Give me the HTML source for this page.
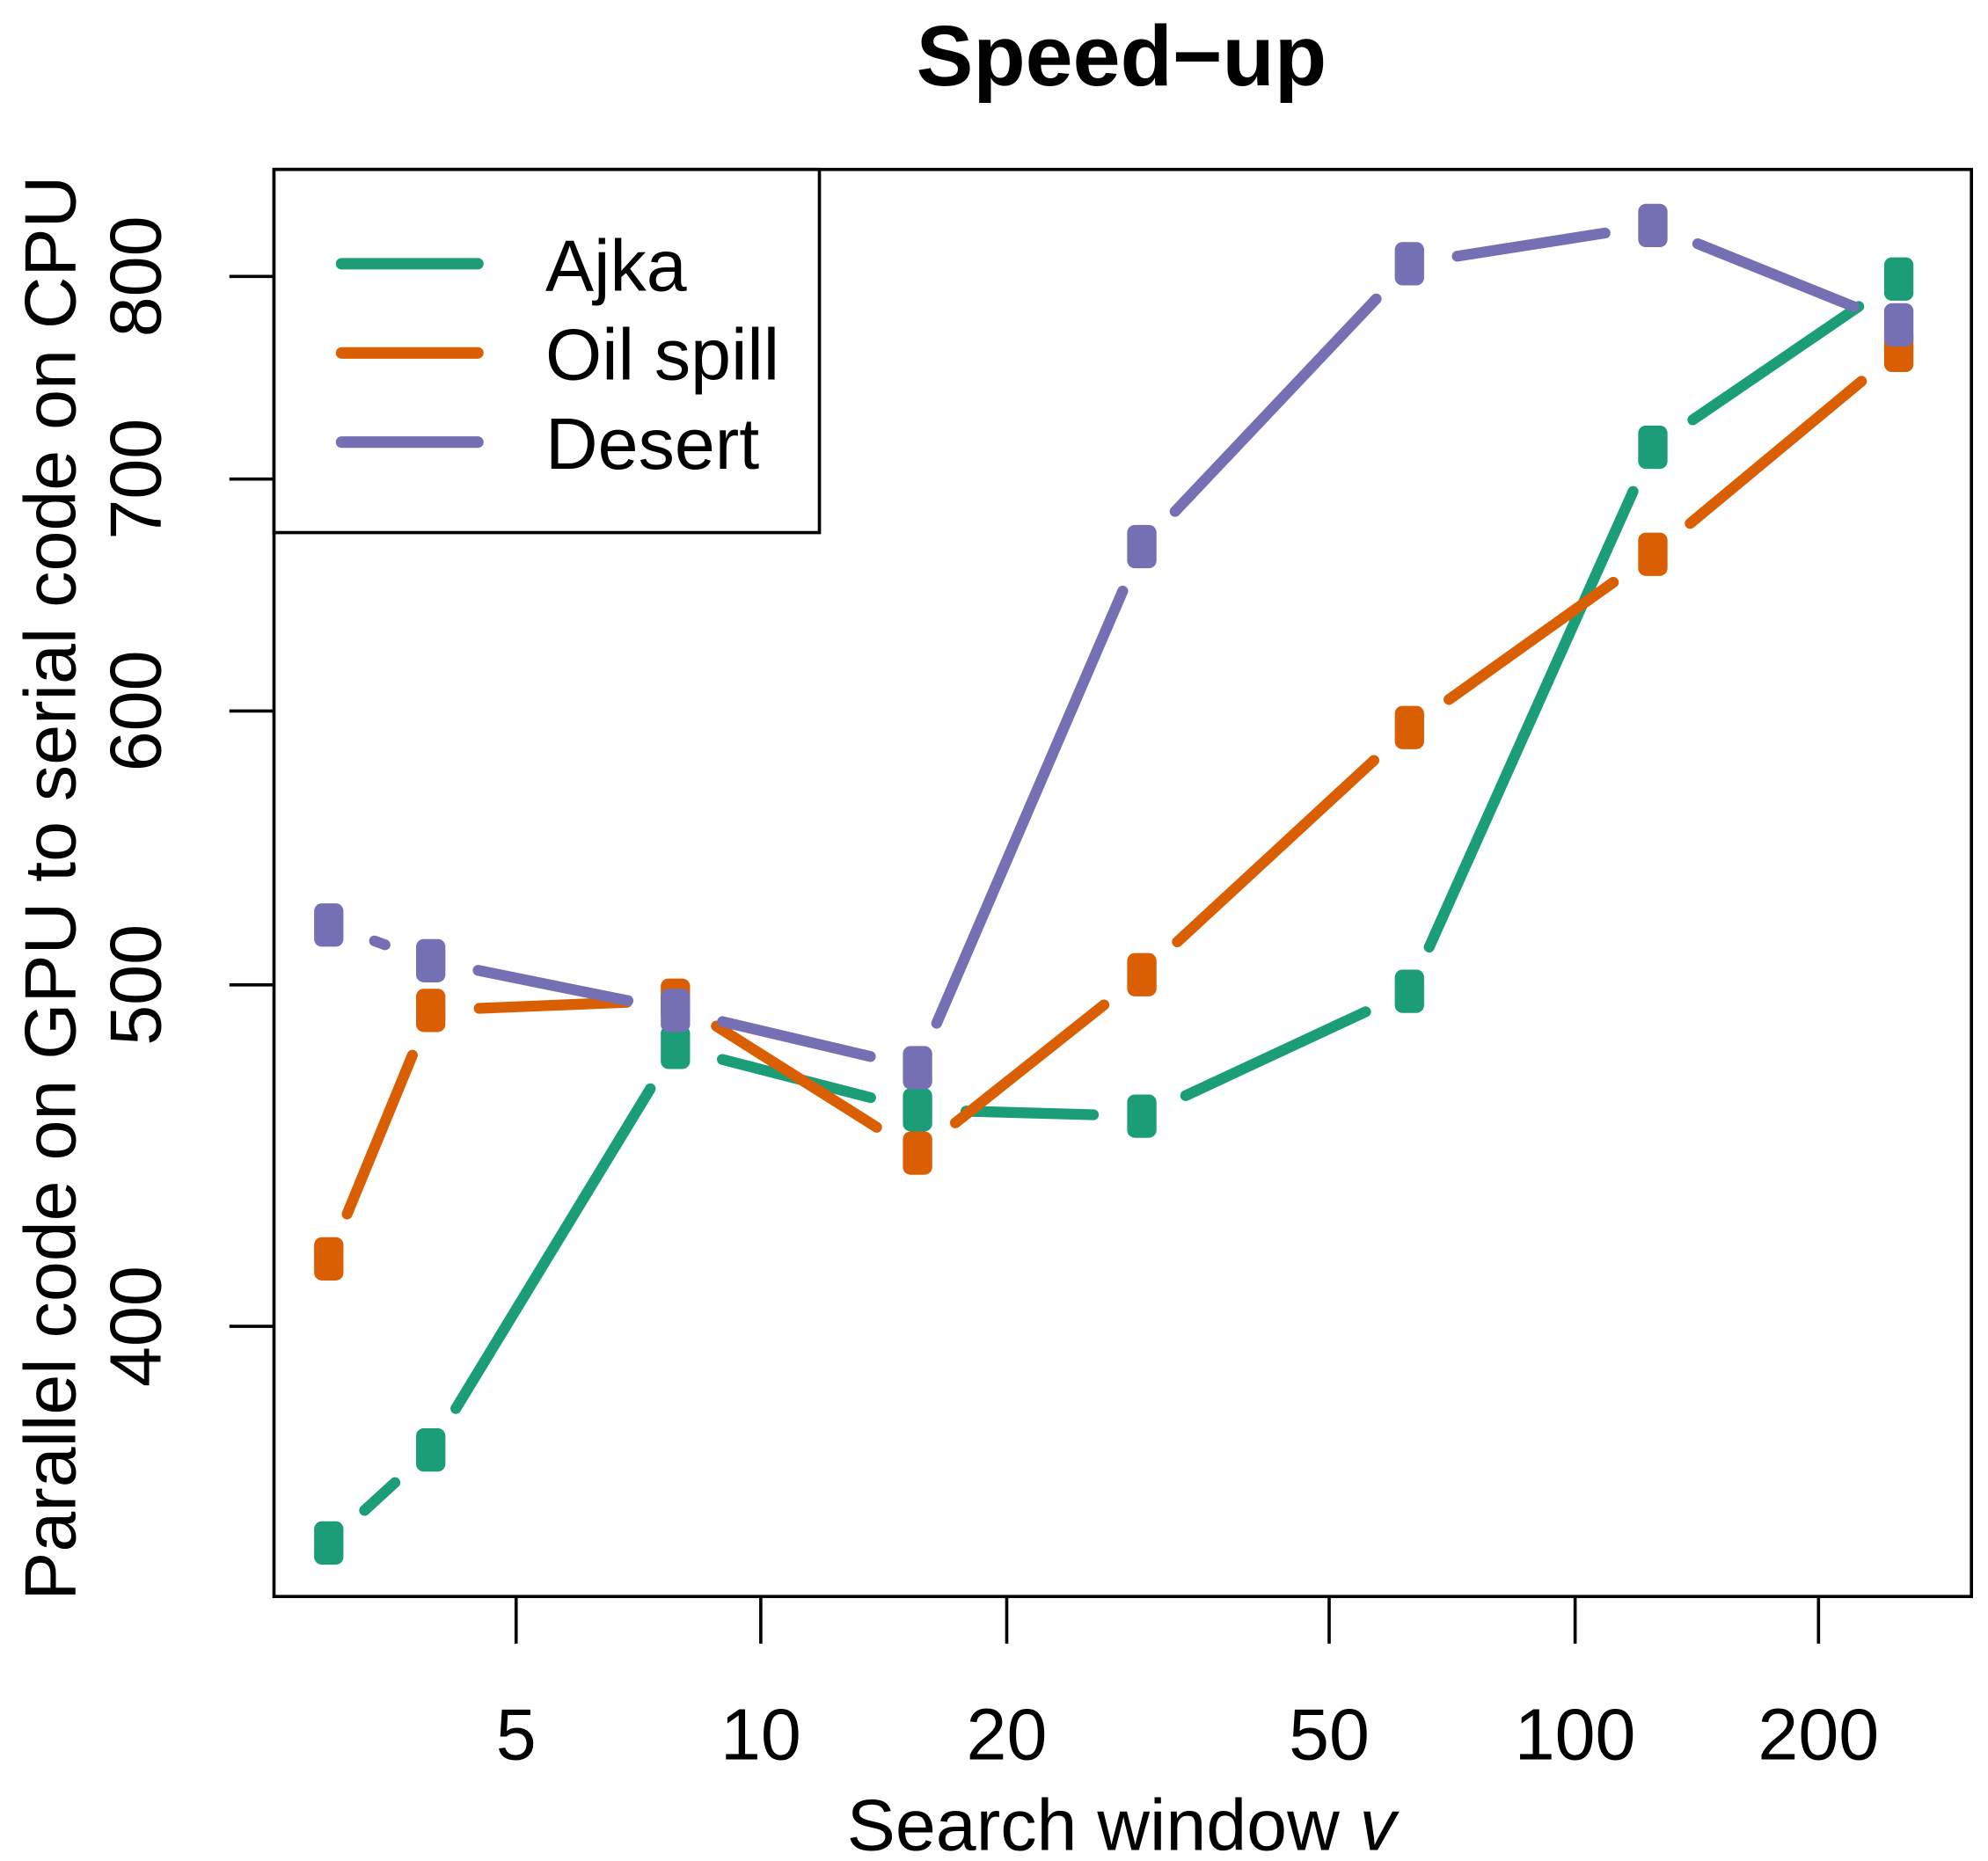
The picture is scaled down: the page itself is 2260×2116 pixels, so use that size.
<!DOCTYPE html>
<html><head><meta charset="utf-8"><style>html,body{margin:0;padding:0;background:#fff}svg{display:block}</style></head>
<body>
<svg width="2260" height="2116" viewBox="0 0 1560 1460.6" preserveAspectRatio="none" xmlns="http://www.w3.org/2000/svg" font-family="Liberation Sans, sans-serif">
<rect x="0" y="0" width="1560" height="1461" fill="#fff"/>
<text x="880" y="67" font-size="67" font-weight="bold" text-anchor="middle">Speed−up</text>
<rect x="215" y="133" width="1332" height="1120" fill="none" stroke="#000" stroke-width="2.5"/>
<g stroke="#000" stroke-width="2.5">
<line x1="405" y1="1253" x2="405" y2="1290"/><line x1="597" y1="1253" x2="597" y2="1290"/><line x1="790" y1="1253" x2="790" y2="1290"/><line x1="1043" y1="1253" x2="1043" y2="1290"/><line x1="1236" y1="1253" x2="1236" y2="1290"/><line x1="1427" y1="1253" x2="1427" y2="1290"/>
<line x1="215" y1="217" x2="180" y2="217"/><line x1="215" y1="376" x2="180" y2="376"/><line x1="215" y1="558" x2="180" y2="558"/><line x1="215" y1="773" x2="180" y2="773"/><line x1="215" y1="1041" x2="180" y2="1041"/>
</g>
<g font-size="57" text-anchor="middle">
<text x="405" y="1381">5</text><text x="597" y="1381">10</text><text x="790" y="1381">20</text><text x="1043" y="1381">50</text><text x="1236" y="1381">100</text><text x="1427" y="1381">200</text>
<text transform="translate(126,217) rotate(-90)">800</text>
<text transform="translate(126,376) rotate(-90)">700</text>
<text transform="translate(126,558) rotate(-90)">600</text>
<text transform="translate(126,773) rotate(-90)">500</text>
<text transform="translate(126,1041) rotate(-90)">400</text>
<text x="880" y="1452" font-size="57">Search window <tspan font-style="italic">v</tspan></text>
<text transform="translate(59,697) rotate(-90)" font-size="57">Parallel code on GPU to serial code on CPU</text>
</g>
<g stroke-linecap="round" stroke-width="8.5" fill="none">
<g stroke="#1B9E77">
<line x1="286.1" y1="1185.4" x2="309.9" y2="1163.6"/>
<line x1="357.7" y1="1105.5" x2="510.3" y2="854.5"/>
<line x1="566.8" y1="831.5" x2="683.2" y2="861.5"/>
<line x1="758" y1="872.1" x2="858" y2="874.9"/>
<line x1="930.4" y1="859.9" x2="1071.6" y2="794.1"/>
<line x1="1121.5" y1="743.3" x2="1281.5" y2="385.7"/>
<line x1="1328.4" y1="329.5" x2="1458.6" y2="240.5"/>
</g>
<g fill="#1B9E77" stroke="none">
<rect x="246.5" y="1194" width="23" height="34" rx="6"/><rect x="326.5" y="1121" width="23" height="34" rx="6"/><rect x="518.5" y="805" width="23" height="34" rx="6"/><rect x="708.5" y="854" width="23" height="34" rx="6"/><rect x="884.5" y="859" width="23" height="34" rx="6"/><rect x="1094.5" y="761" width="23" height="34" rx="6"/><rect x="1285.5" y="334" width="23" height="34" rx="6"/><rect x="1478.5" y="202" width="23" height="34" rx="6"/>
</g>
<g stroke="#D95F02">
<line x1="272.4" y1="952.8" x2="323.6" y2="828.2"/>
<line x1="376" y1="791.4" x2="492" y2="786.6"/>
<line x1="562.1" y1="805.3" x2="687.9" y2="884.7"/>
<line x1="749.7" y1="881.3" x2="866.3" y2="788.7"/>
<line x1="923.9" y1="739.2" x2="1078.1" y2="596.8"/>
<line x1="1137" y1="549" x2="1266" y2="457"/>
<line x1="1326.3" y1="410.8" x2="1460.7" y2="299.2"/>
</g>
<g fill="#D95F02" stroke="none">
<rect x="246.5" y="971" width="23" height="34" rx="6"/><rect x="326.5" y="776" width="23" height="34" rx="6"/><rect x="518.5" y="768" width="23" height="34" rx="6"/><rect x="708.5" y="888" width="23" height="34" rx="6"/><rect x="884.5" y="748" width="23" height="34" rx="6"/><rect x="1094.5" y="554" width="23" height="34" rx="6"/><rect x="1285.5" y="418" width="23" height="34" rx="6"/><rect x="1478.5" y="258" width="23" height="34" rx="6"/>
</g>
<g stroke="#7570B3">
<line x1="293.9" y1="738.5" x2="302.1" y2="741.5"/>
<line x1="375.2" y1="761.6" x2="492.8" y2="785.4"/>
<line x1="567" y1="801.8" x2="683" y2="829.2"/>
<line x1="735" y1="803.1" x2="881" y2="463.9"/>
<line x1="922.1" y1="401.4" x2="1079.9" y2="234.6"/>
<line x1="1143.5" y1="201.1" x2="1259.5" y2="182.9"/>
<line x1="1332.2" y1="191.3" x2="1454.8" y2="240.7"/>
</g>
<g fill="#7570B3" stroke="none">
<rect x="246.5" y="709" width="23" height="34" rx="6"/><rect x="326.5" y="737" width="23" height="34" rx="6"/><rect x="518.5" y="776" width="23" height="34" rx="6"/><rect x="708.5" y="821" width="23" height="34" rx="6"/><rect x="884.5" y="412" width="23" height="34" rx="6"/><rect x="1094.5" y="190" width="23" height="34" rx="6"/><rect x="1285.5" y="160" width="23" height="34" rx="6"/><rect x="1478.5" y="238" width="23" height="34" rx="6"/>
</g>
</g>
<rect x="215" y="133" width="428" height="285" fill="#fff" stroke="#000" stroke-width="2.5"/>
<g stroke-width="9" stroke-linecap="round">
<line x1="268" y1="207" x2="375" y2="207" stroke="#1B9E77"/>
<line x1="268" y1="277" x2="375" y2="277" stroke="#D95F02"/>
<line x1="268" y1="347" x2="375" y2="347" stroke="#7570B3"/>
</g>
<g font-size="57"><text x="428" y="228">Ajka</text><text x="428" y="298">Oil spill</text><text x="428" y="368">Desert</text></g>
</svg>
</body></html>
